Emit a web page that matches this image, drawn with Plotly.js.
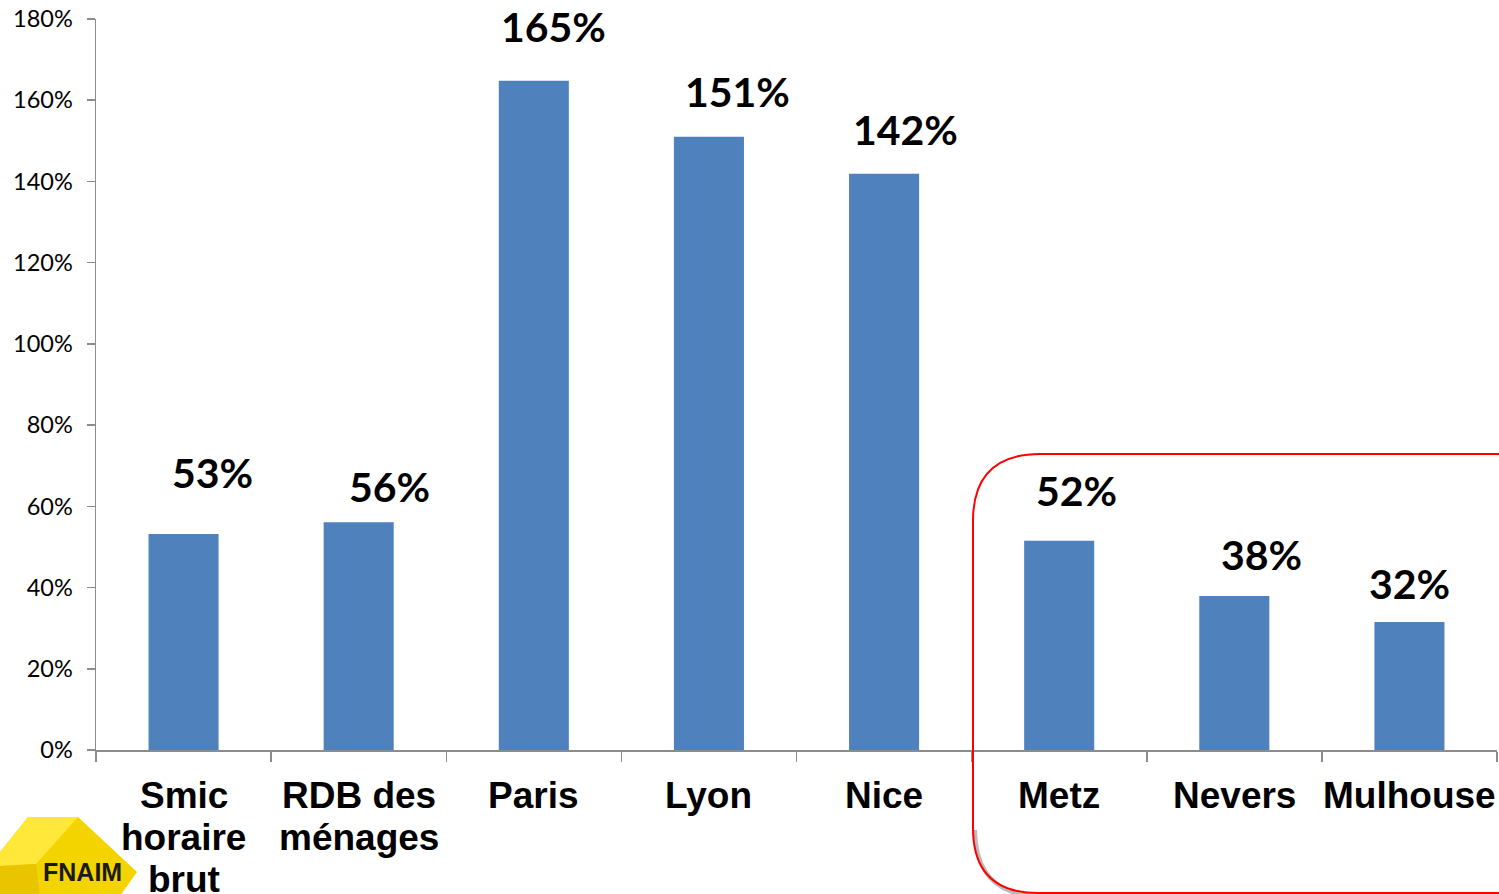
<!DOCTYPE html>
<html>
<head>
<meta charset="utf-8">
<script src="https://cdn.plot.ly/plotly-3.0.1.min.js"></script>
<style>html,body{margin:0;padding:0;background:#fff;}#chart{width:1499px;height:894px;}</style>
</head>
<body>
<div id="chart"></div>
<script>
// ---- data ----
const categories = ["Smic<br>horaire<br>brut", "RDB des<br>ménages", "Paris", "Lyon", "Nice", "Metz", "Nevers", "Mulhouse"];
const values = [53.2, 56.1, 164.8, 151.0, 141.9, 51.5, 37.9, 31.5];
const valueLabels = ["53%", "56%", "165%", "151%", "142%", "52%", "38%", "32%"];
const yTickVals = [0, 20, 40, 60, 80, 100, 120, 140, 160, 180];
const yTickText = ["0%", "20%", "40%", "60%", "80%", "100%", "120%", "140%", "160%", "180%"];

// ---- label placement (style only) ----
const labelDx = [29, 31, 20, 29, 21, 17, 27, 0];
const labelDy = [61, 36, 54, 45, 44, 50, 42, 39];

const W = 1499, H = 894;
const M = {l: 96, r: 2, t: 19, b: 144};
const pw = W - M.l - M.r, ph = H - M.t - M.b;
const px = x => (x - M.l) / pw;
const py = y => (H - M.b - y) / ph;

const annotations = [];
values.forEach((v, i) => {
  annotations.push({
    x: categories[i], y: v, xref: 'x', yref: 'y',
    text: valueLabels[i], showarrow: false,
    xanchor: 'center', yanchor: 'middle',
    xshift: labelDx[i], yshift: labelDy[i],
    font: {family: 'Lato, "Open Sans", sans-serif', size: 41, color: '#000', weight: 'bold'}
  });
});
categories.forEach((c, i) => {
  c.split('<br>').forEach((line, k) => {
    annotations.push({
      x: c, y: 0, xref: 'x', yref: 'paper',
      text: '<b>' + line + '</b>', showarrow: false,
      xanchor: 'center', yanchor: 'middle',
      yshift: -(45 + k * 42),
      font: {family: '"Liberation Sans", Arial, sans-serif', size: 37, color: '#000'}
    });
  });
});
// logo text
annotations.push({
  x: px(82), y: py(872), xref: 'paper', yref: 'paper',
  text: '<b>FNAIM</b>', showarrow: false, xanchor: 'center', yanchor: 'middle',
  font: {family: '"Liberation Sans", Arial, sans-serif', size: 25, color: '#1a1a1a'}
});

function pth(points) {
  return 'M ' + points.map(p => px(p[0]) + ',' + py(p[1])).join(' L ') + ' Z';
}
const boxPath = 'M ' + px(1515) + ',' + py(454) +
  ' L ' + px(1040) + ',' + py(454) +
  ' Q ' + px(973) + ',' + py(454) + ' ' + px(973) + ',' + py(521) +
  ' L ' + px(973) + ',' + py(828) +
  ' Q ' + px(973) + ',' + py(893) + ' ' + px(1038) + ',' + py(893) +
  ' L ' + px(1515) + ',' + py(893);
const shadowPath = 'M ' + px(975) + ',' + py(830) +
  ' Q ' + px(976) + ',' + py(896) + ' ' + px(1040) + ',' + py(896);

const shapes = [
  {type: 'path', xref: 'paper', yref: 'paper', path: shadowPath, line: {color: 'rgba(120,120,120,0.5)', width: 4}, layer: 'above'},
  {type: 'path', xref: 'paper', yref: 'paper', path: boxPath, line: {color: '#ff0000', width: 2}, layer: 'above'},
  // logo
  {type: 'path', xref: 'paper', yref: 'paper', path: pth([[0,852],[28,817],[78,817],[137,872],[120,896],[0,896]]), fillcolor: '#F4D400', line: {width: 0}, layer: 'above'},
  {type: 'path', xref: 'paper', yref: 'paper', path: pth([[0,852],[28,817],[78,817],[36,864],[0,866]]), fillcolor: '#FFE83A', line: {width: 0}, layer: 'above'},
  {type: 'path', xref: 'paper', yref: 'paper', path: pth([[0,866],[36,864],[40,896],[0,896]]), fillcolor: '#E9C500', line: {width: 0}, layer: 'above'}
];

const trace = {
  type: 'bar', x: categories, y: values,
  marker: {color: '#4F81BD', line: {width: 0}},
  hoverinfo: 'x+y'
};

const layout = {
  width: W, height: H,
  margin: M,
  paper_bgcolor: '#fff', plot_bgcolor: '#fff',
  showlegend: false,
  bargap: 0.6,
  xaxis: {
    type: 'category', range: [-0.5, 7.5],
    showticklabels: false, tickson: 'boundaries', ticks: 'outside', ticklen: 10,
    tickcolor: '#8c8c8c', tickwidth: 1.5,
    showline: true, linecolor: '#8c8c8c', linewidth: 1.5,
    showgrid: false, zeroline: false, fixedrange: true
  },
  yaxis: {
    range: [0, 180], tickvals: yTickVals, ticktext: yTickText,
    ticks: 'outside', ticklen: 8, tickcolor: '#8c8c8c', tickwidth: 1.5,
    showline: true, linecolor: '#8c8c8c', linewidth: 1.5,
    showgrid: false, zeroline: false, ticklabelstandoff: 9,
    tickfont: {family: 'Lato, "Open Sans", sans-serif', size: 23.5, color: '#000'},
    fixedrange: true
  },
  annotations: annotations,
  shapes: shapes
};

Plotly.newPlot('chart', [trace], layout, {displayModeBar: false, staticPlot: true});
</script>
</body>
</html>
